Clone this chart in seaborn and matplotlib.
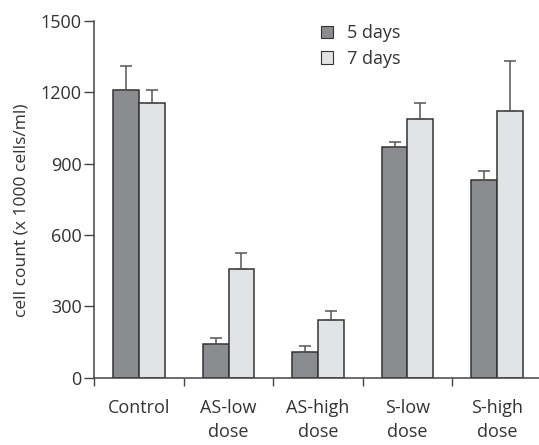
import numpy as np
import pandas as pd
import matplotlib
matplotlib.use("Agg")
import matplotlib.pyplot as plt
from matplotlib.ticker import FixedLocator
import seaborn as sns

# values
groups = ["Control", "AS-low\ndose", "AS-high\ndose", "S-low\ndose", "S-high\ndose"]
series = ["5 days", "7 days"]
days5 = [1210, 140, 107, 970, 830]
days7 = [1155, 458, 243, 1088, 1120]
err5 = [100, 25, 25, 20, 38]
err7 = [55, 67, 38, 65, 210]
yticks = [0, 300, 600, 900, 1200, 1500]

df = pd.DataFrame({
    "group": groups * 2,
    "series": [series[0]] * 5 + [series[1]] * 5,
    "count": days5 + days7,
})

sns.set_style("white")
plt.rcParams["font.family"] = ["Open Sans", "DejaVu Sans"]
plt.rcParams["text.color"] = "#333333"

fig = plt.figure(figsize=(5.39, 4.45), dpi=100)
ax = fig.add_axes([0.1750, 0.1512, 0.8300, 0.8022])

palette = {"5 days": "#8b8c90", "7 days": "#e2e3e5"}
sns.barplot(data=df, x="group", y="count", hue="series", palette=palette,
            width=0.573, edgecolor="#333333", linewidth=1.1, ax=ax,
            saturation=1, errorbar=None)

# upper-only error bars placed on the drawn bars
for cont, errs in zip(ax.containers, [err5, err7]):
    xs = [p.get_x() + p.get_width() / 2 for p in cont.patches]
    hs = [p.get_height() for p in cont.patches]
    ax.errorbar(xs, hs, yerr=[np.zeros(len(errs)), errs], fmt="none",
                ecolor="#555555", elinewidth=1.1, capsize=4, capthick=1.1,
                zorder=1)

ax.set_xlim(-0.5, 4.5)
ax.set_ylim(0, 1500)
ax.set_yticks(yticks)
ax.set_yticklabels([str(t) for t in yticks])
ax.set_xlabel("")
ax.set_ylabel("cell count (x 1000 cells/ml)", fontsize=12.5, color="#333333")
ax.yaxis.set_label_coords(-0.145, 0.47)

ax.xaxis.set_minor_locator(FixedLocator(np.arange(-0.5, 5, 1.0)))
ax.tick_params(axis="x", which="major", length=0, pad=15, labelsize=13,
               labelcolor="#333333")
ax.tick_params(axis="x", which="minor", length=6, width=1.0, color="#444444",
               bottom=True)
ax.tick_params(axis="y", length=7, width=1.0, color="#444444", left=True,
               labelsize=13, labelcolor="#333333", pad=2)
for lab in ax.get_xticklabels():
    lab.set_linespacing(1.45)

sns.despine(ax=ax)
for s in ["left", "bottom"]:
    ax.spines[s].set_color("#444444")
    ax.spines[s].set_linewidth(1.1)

leg = ax.legend(loc="upper left", bbox_to_anchor=(0.47, 1.035), frameon=False,
                fontsize=13, handlelength=0.7, handleheight=0.7,
                handletextpad=0.75, labelspacing=0.4)
for h in leg.legend_handles:
    h.set_edgecolor("#333333")
    h.set_linewidth(0.8)

fig.savefig("out.png", dpi=100)
